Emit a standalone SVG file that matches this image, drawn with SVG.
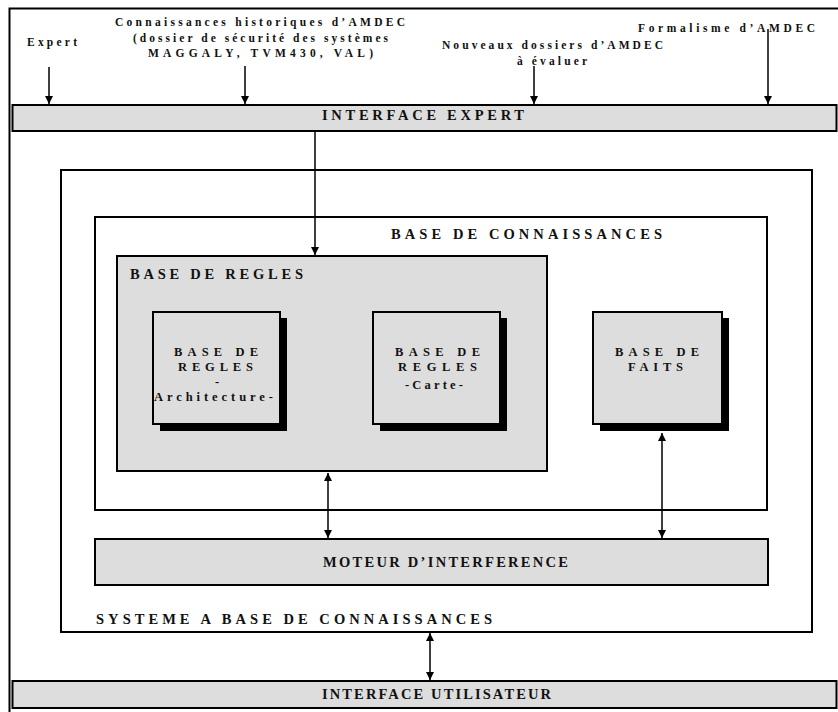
<svg xmlns="http://www.w3.org/2000/svg" width="838" height="712" viewBox="0 0 838 712">
  <defs>
    <marker id="arrow" viewBox="0 0 8 8" refX="8" refY="4" markerWidth="8" markerHeight="8" markerUnits="userSpaceOnUse" orient="auto-start-reverse">
      <path d="M0,0 L8,4 L0,8 Z" fill="#000"/>
    </marker>
    <style>
      .frame { fill: none; stroke: #000; stroke-width: 2; }
      .panel { fill: #dddddd; stroke: #000; stroke-width: 2; }
      .shadow { fill: #000; }
      .link { fill: none; stroke: #000; stroke-width: 1.5; }
      .t { font-family: "Liberation Serif", "Times New Roman", serif; font-weight: bold; fill: #111; }
      .s { font-size: 11.5px; }
      .m { font-size: 14.5px; }
      .b { font-size: 12.5px; }
    </style>
  </defs>

  <rect x="0" y="0" width="838" height="712" fill="#fff"/>

  <!-- outer page frame -->
  <path class="frame" d="M9.5,712 V8.5 H840"/>

  <!-- input labels -->
  <g id="inputs">
    <text class="t s" x="27" y="46" textLength="50" lengthAdjust="spacing">Expert</text>
    <text class="t s" x="115" y="26" textLength="290" lengthAdjust="spacing">Connaissances historiques d’AMDEC</text>
    <text class="t s" x="133" y="41.5" textLength="255" lengthAdjust="spacing">(dossier de sécurité des systèmes</text>
    <text class="t s" x="148" y="57" textLength="225" lengthAdjust="spacing">MAGGALY, TVM430, VAL)</text>
    <text class="t s" x="442" y="49" textLength="221" lengthAdjust="spacing">Nouveaux dossiers d’AMDEC</text>
    <text class="t s" x="517" y="65" textLength="70" lengthAdjust="spacing">à évaluer</text>
    <text class="t s" x="638" y="32" textLength="177" lengthAdjust="spacing">Formalisme d’AMDEC</text>
  </g>

  <g id="interface-expert">
    <rect class="panel" x="12.5" y="105" width="824" height="26"/>
    <text class="t m" x="322" y="119.5" textLength="202" lengthAdjust="spacing">INTERFACE EXPERT</text>
  </g>

  <g id="sbc">
    <rect class="frame" x="61" y="170" width="751" height="462"/>
    <text class="t m" x="96" y="624" textLength="396" lengthAdjust="spacing">SYSTEME A BASE DE CONNAISSANCES</text>
  </g>

  <g id="base-connaissances">
    <rect class="frame" x="95" y="217" width="672" height="293"/>
    <text class="t m" x="391" y="238.5" textLength="271" lengthAdjust="spacing">BASE DE CONNAISSANCES</text>
  </g>

  <g id="base-regles">
    <rect class="panel" x="117" y="256" width="430" height="215"/>
    <text class="t m" x="130" y="278.5" textLength="173" lengthAdjust="spacing">BASE DE REGLES</text>
  </g>

  <g id="regles-architecture">
    <rect class="shadow" x="160" y="318" width="127" height="113"/>
    <rect class="panel" x="153" y="312" width="127" height="112"/>
    <text class="t b" x="174" y="356" textLength="84" lengthAdjust="spacing">BASE DE</text>
    <text class="t b" x="178" y="370.5" textLength="75" lengthAdjust="spacing">REGLES</text>
    <text class="t b" x="217" y="386" text-anchor="middle">-</text>
    <text class="t b" x="154" y="401" textLength="119" lengthAdjust="spacing">Architecture-</text>
  </g>

  <g id="regles-carte">
    <rect class="shadow" x="380" y="318" width="127" height="113"/>
    <rect class="panel" x="373" y="312" width="127" height="112"/>
    <text class="t b" x="395" y="356" textLength="85" lengthAdjust="spacing">BASE DE</text>
    <text class="t b" x="398" y="370.5" textLength="79" lengthAdjust="spacing">REGLES</text>
    <text class="t b" x="405" y="389" textLength="58" lengthAdjust="spacing">-Carte-</text>
  </g>

  <g id="base-faits">
    <rect class="shadow" x="600" y="318" width="129" height="113"/>
    <rect class="panel" x="593" y="312" width="129" height="112"/>
    <text class="t b" x="615" y="356" textLength="84" lengthAdjust="spacing">BASE DE</text>
    <text class="t b" x="628" y="371" textLength="55" lengthAdjust="spacing">FAITS</text>
  </g>

  <g id="moteur">
    <rect class="panel" x="95" y="539" width="673" height="46"/>
    <text class="t m" x="323" y="567" textLength="245" lengthAdjust="spacing">MOTEUR D’INTERFERENCE</text>
  </g>

  <g id="interface-utilisateur">
    <rect class="panel" x="12.5" y="681" width="824" height="27"/>
    <text class="t m" x="322" y="699" textLength="229" lengthAdjust="spacing">INTERFACE UTILISATEUR</text>
  </g>

  <!-- connectors -->
  <g id="connectors">
    <line class="link" x1="49" y1="67" x2="49" y2="104" marker-end="url(#arrow)"/>
    <line class="link" x1="245" y1="66" x2="245" y2="104" marker-end="url(#arrow)"/>
    <line class="link" x1="534" y1="66" x2="534" y2="104" marker-end="url(#arrow)"/>
    <line class="link" x1="768" y1="29" x2="768" y2="104" marker-end="url(#arrow)"/>
    <line class="link" x1="315" y1="132" x2="315" y2="255" marker-end="url(#arrow)"/>
    <line class="link" x1="328" y1="473" x2="328" y2="538" marker-start="url(#arrow)" marker-end="url(#arrow)"/>
    <line class="link" x1="662" y1="433" x2="662" y2="538" marker-start="url(#arrow)" marker-end="url(#arrow)"/>
    <line class="link" x1="430" y1="633" x2="430" y2="680" marker-start="url(#arrow)" marker-end="url(#arrow)"/>
  </g>
</svg>
